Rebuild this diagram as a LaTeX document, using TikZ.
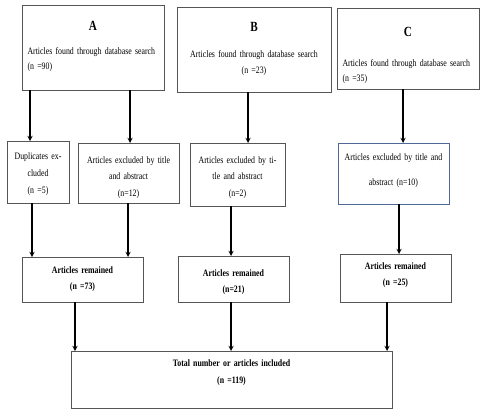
\documentclass[tikz,border=0pt]{standalone}
\usepackage{fontspec}
\setmainfont[FakeStretch=0.8]{Liberation Serif}
\usepackage{tikz}
\usetikzlibrary{arrows}
\definecolor{boxline}{RGB}{85,85,85}
\definecolor{blueline}{RGB}{80,105,150}
\tikzstyle{topbox} = [rectangle, draw=boxline, line width=0.9pt, anchor=north west, inner ysep=0pt, outer sep=0pt, font=\fontsize{9.8}{15}\selectfont]
\tikzstyle{midbox} = [rectangle, draw=boxline, line width=0.9pt, anchor=north west, inner ysep=0pt, inner xsep=4pt, outer sep=0pt, align=center, font=\fontsize{9.8}{16.7}\selectfont]
\tikzstyle{resbox} = [rectangle, draw=boxline, line width=0.9pt, anchor=north west, inner ysep=0pt, inner xsep=4pt, outer sep=0pt, align=center, font=\fontsize{9.8}{16.7}\selectfont\bfseries]
\tikzstyle{arrow} = [line width=1.3pt,->,>=stealth]
\newcommand{\hdr}{\fontsize{14}{14}\selectfont\bfseries}

\begin{document}
\begin{tikzpicture}[x=1pt,y=-1pt]
\useasboundingbox (0,0) rectangle (484,412);
% databases
\node (A) [topbox, inner xsep=5.5pt, text width=131pt, text height=26pt, text depth=59pt, align=left] at (22,5)
{\makebox[\linewidth]{\hdr A}\\[9pt]Articles found through database search\\(n =90)};
\node (B) [topbox, inner xsep=6pt, text width=142pt, text height=25pt, text depth=60pt, align=center, font=\fontsize{9.8}{17}\selectfont] at (177,7)
{{\hdr B}\\[8pt]Articles found through database search\\(n =23)};
\node (C) [topbox, inner xsep=5.5pt, text width=131pt, text height=29pt, text depth=52pt, align=left] at (337,8)
{\makebox[\linewidth]{\hdr C}\\[15pt]Articles found through database search\\(n =35)};
% exclusions
\node (dup) [midbox, inner xsep=2pt, text width=58pt, text height=18pt, text depth=44pt, font=\fontsize{9.8}{17}\selectfont] at (7,141)
{Duplicates ex-\\cluded\\(n =5)};
\node (exclA) [midbox, text width=93pt, text height=20pt, text depth=40pt] at (78,143)
{Articles excluded by title\\and abstract\\(n=12)};
\node (exclB) [midbox, text width=87pt, text height=20pt, text depth=43pt] at (190,143)
{Articles excluded by ti-\\tle and abstract\\(n=2)};
\node (exclC) [midbox, draw=blueline, text width=103pt, text height=17pt, text depth=44pt, font=\fontsize{9.8}{25}\selectfont] at (338,143)
{Articles excluded by title and\\abstract (n=10)};
% remaining
\node (remA) [resbox, text width=113pt, text height=16pt, text depth=29pt, font=\fontsize{9.8}{16}\selectfont\bfseries] at (22,257)
{Articles remained\\(n =73)};
\node (remB) [resbox, text width=103pt, text height=20pt, text depth=26pt] at (178,256)
{Articles remained\\(n=21)};
\node (remC) [resbox, text width=103pt, text height=15pt, text depth=33pt, font=\fontsize{9.8}{16}\selectfont\bfseries] at (340,254)
{Articles remained\\(n =25)};
\node (total) [resbox, text width=313pt, text height=15.7pt, text depth=41.3pt] at (71,351)
{Total number or articles included\\(n =119)};
% arrows
\draw [arrow] ([xshift=8pt]A.south west) -- ([xshift=8pt]A.south west |- dup.north);
\draw [arrow] ([xshift=108pt]A.south west) -- ([xshift=108pt]A.south west |- exclA.north);
\draw [arrow] ([xshift=71pt]B.south west) -- ([xshift=71pt]B.south west |- exclB.north);
\draw [arrow] ([xshift=66pt]C.south west) -- ([xshift=66pt]C.south west |- exclC.north);
\draw [arrow] ([xshift=25pt]dup.south west) -- ([xshift=25pt]dup.south west |- remA.north);
\draw [arrow] ([xshift=50pt]exclA.south west) -- ([xshift=50pt]exclA.south west |- remA.north);
\draw [arrow] ([xshift=41pt]exclB.south west) -- ([xshift=41pt]exclB.south west |- remB.north);
\draw [arrow] ([xshift=61pt]exclC.south west) -- ([xshift=61pt]exclC.south west |- remC.north);
\draw [arrow] ([xshift=53pt]remA.south west) -- ([xshift=53pt]remA.south west |- total.north);
\draw [arrow] ([xshift=53pt]remB.south west) -- ([xshift=53pt]remB.south west |- total.north);
\draw [arrow] ([xshift=47pt]remC.south west) -- ([xshift=47pt]remC.south west |- total.north);
\end{tikzpicture}
\end{document}
